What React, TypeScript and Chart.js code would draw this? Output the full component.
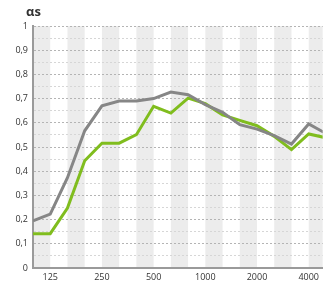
import React, { useEffect, useRef } from "react";
import { Chart, registerables } from "chart.js";

Chart.register(...registerables);

const FREQUENCIES = ["100", "125", "160", "200", "250", "315", "400", "500", "630", "800", "1000", "1250", "1600", "2000", "2500", "3150", "4000", "5000"];
const SERIES_GRAY = [0.195, 0.223, 0.373, 0.567, 0.67, 0.69, 0.69, 0.7, 0.727, 0.716, 0.675, 0.643, 0.592, 0.574, 0.547, 0.512, 0.595, 0.556];
const SERIES_GREEN = [0.142, 0.142, 0.248, 0.443, 0.516, 0.516, 0.551, 0.668, 0.64, 0.702, 0.679, 0.633, 0.61, 0.588, 0.544, 0.489, 0.554, 0.538];
const X_TICK_LABELS = ["125", "250", "500", "1000", "2000", "4000"];
const Y_TICK_VALUES = [0, 0.1, 0.2, 0.3, 0.4, 0.5, 0.6, 0.7, 0.8, 0.9, 1];
const TITLE = "αs";

const FONT = '"Open Sans", "DejaVu Sans", sans-serif';

const bandsPlugin = {
  id: "bands",
  beforeDraw(chart: any) {
    const { ctx, chartArea } = chart;
    const xs = chart.scales.x;
    ctx.save();
    ctx.beginPath();
    ctx.rect(chartArea.left, chartArea.top, chartArea.right - chartArea.left, chartArea.bottom - chartArea.top);
    ctx.clip();
    ctx.fillStyle = "#ececec";
    for (let i = 0; i < FREQUENCIES.length - 1; i += 2) {
      const a = xs.getPixelForValue(i);
      const b = xs.getPixelForValue(i + 1);
      ctx.fillRect(a, chartArea.top, b - a, chartArea.bottom - chartArea.top);
    }
    ctx.restore();
  },
};

const titlePlugin = {
  id: "alphaTitle",
  afterDraw(chart: any) {
    const { ctx, chartArea } = chart;
    ctx.save();
    ctx.font = `bold 13px ${FONT}`;
    ctx.fillStyle = "#333333";
    ctx.textBaseline = "alphabetic";
    ctx.textAlign = "left";
    ctx.fillText(TITLE, chartArea.left - 7, 16);
    ctx.restore();
  },
};

export default function App() {
  const ref = useRef<HTMLCanvasElement>(null);

  useEffect(() => {
    if (!ref.current) return;
    const toPoints = (arr: number[]) => arr.map((v, i) => ({ x: i, y: v }));
    const chart = new Chart(ref.current, {
      type: "line",
      data: {
        datasets: [
          {
            label: "A",
            data: toPoints(SERIES_GRAY),
            borderColor: "#868686",
            borderWidth: 3,
            pointRadius: 0,
            tension: 0,
          },
          {
            label: "B",
            data: toPoints(SERIES_GREEN),
            borderColor: "#80bd1e",
            borderWidth: 3,
            pointRadius: 0,
            tension: 0,
          },
        ],
      },
      options: {
        animation: false,
        responsive: false,
        layout: { padding: { top: 26, left: 0, right: 0, bottom: 0 } },
        plugins: { legend: { display: false }, tooltip: { enabled: false } },
        scales: {
          x: {
            type: "linear",
            min: 0,
            max: 16.81,
            afterBuildTicks: (scale: any) => {
              scale.ticks = X_TICK_LABELS.map((l) => ({ value: FREQUENCIES.indexOf(l) }));
            },
            afterFit: (scale: any) => {
              scale.height = 18;
            },
            ticks: {
              autoSkip: false,
              maxRotation: 0,
              padding: 4,
              color: "#333333",
              font: { family: FONT, size: 9 },
              callback: (v: any) => FREQUENCIES[Math.round(Number(v))],
            },
            grid: { display: false, drawTicks: false },
            border: { display: true, color: "#9a9a9a", width: 2 },
          },
          y: {
            min: 0,
            max: 1,
            afterBuildTicks: (scale: any) => {
              const t: any[] = [];
              for (let k = 0; k <= 20; k++) t.push({ value: k / 20 });
              scale.ticks = t;
            },
            afterFit: (scale: any) => {
              scale.width = 33;
            },
            ticks: {
              autoSkip: false,
              padding: 5,
              color: "#333333",
              font: { family: FONT, size: 9 },
              callback: (v: any) => {
                const n = Number(v);
                const match = Y_TICK_VALUES.find((t) => Math.abs(t - n) < 1e-6);
                if (match === undefined) return "";
                if (match === 0 || match === 1) return String(match);
                return match.toFixed(1).replace(".", ",");
              },
            },
            grid: {
              drawTicks: false,
              lineWidth: 1,
              color: (ctx: any) => {
                const v = ctx.tick ? ctx.tick.value : 0;
                const major = Math.abs(v * 10 - Math.round(v * 10)) < 1e-6;
                return major ? "#b4b4b4" : "#d6d6d6";
              },
            },
            border: { display: true, color: "#9a9a9a", width: 2, dash: [2, 2] },
          },
        },
      },
      plugins: [bandsPlugin, titlePlugin],
    } as any);
    return () => chart.destroy();
  }, []);

  return (
    <div style={{ position: "absolute", left: 0, top: 0, width: 323, height: 286, overflow: "hidden", background: "#fff" }}>
      <canvas ref={ref} width={323} height={286} style={{ display: "block" }} />
    </div>
  );
}
